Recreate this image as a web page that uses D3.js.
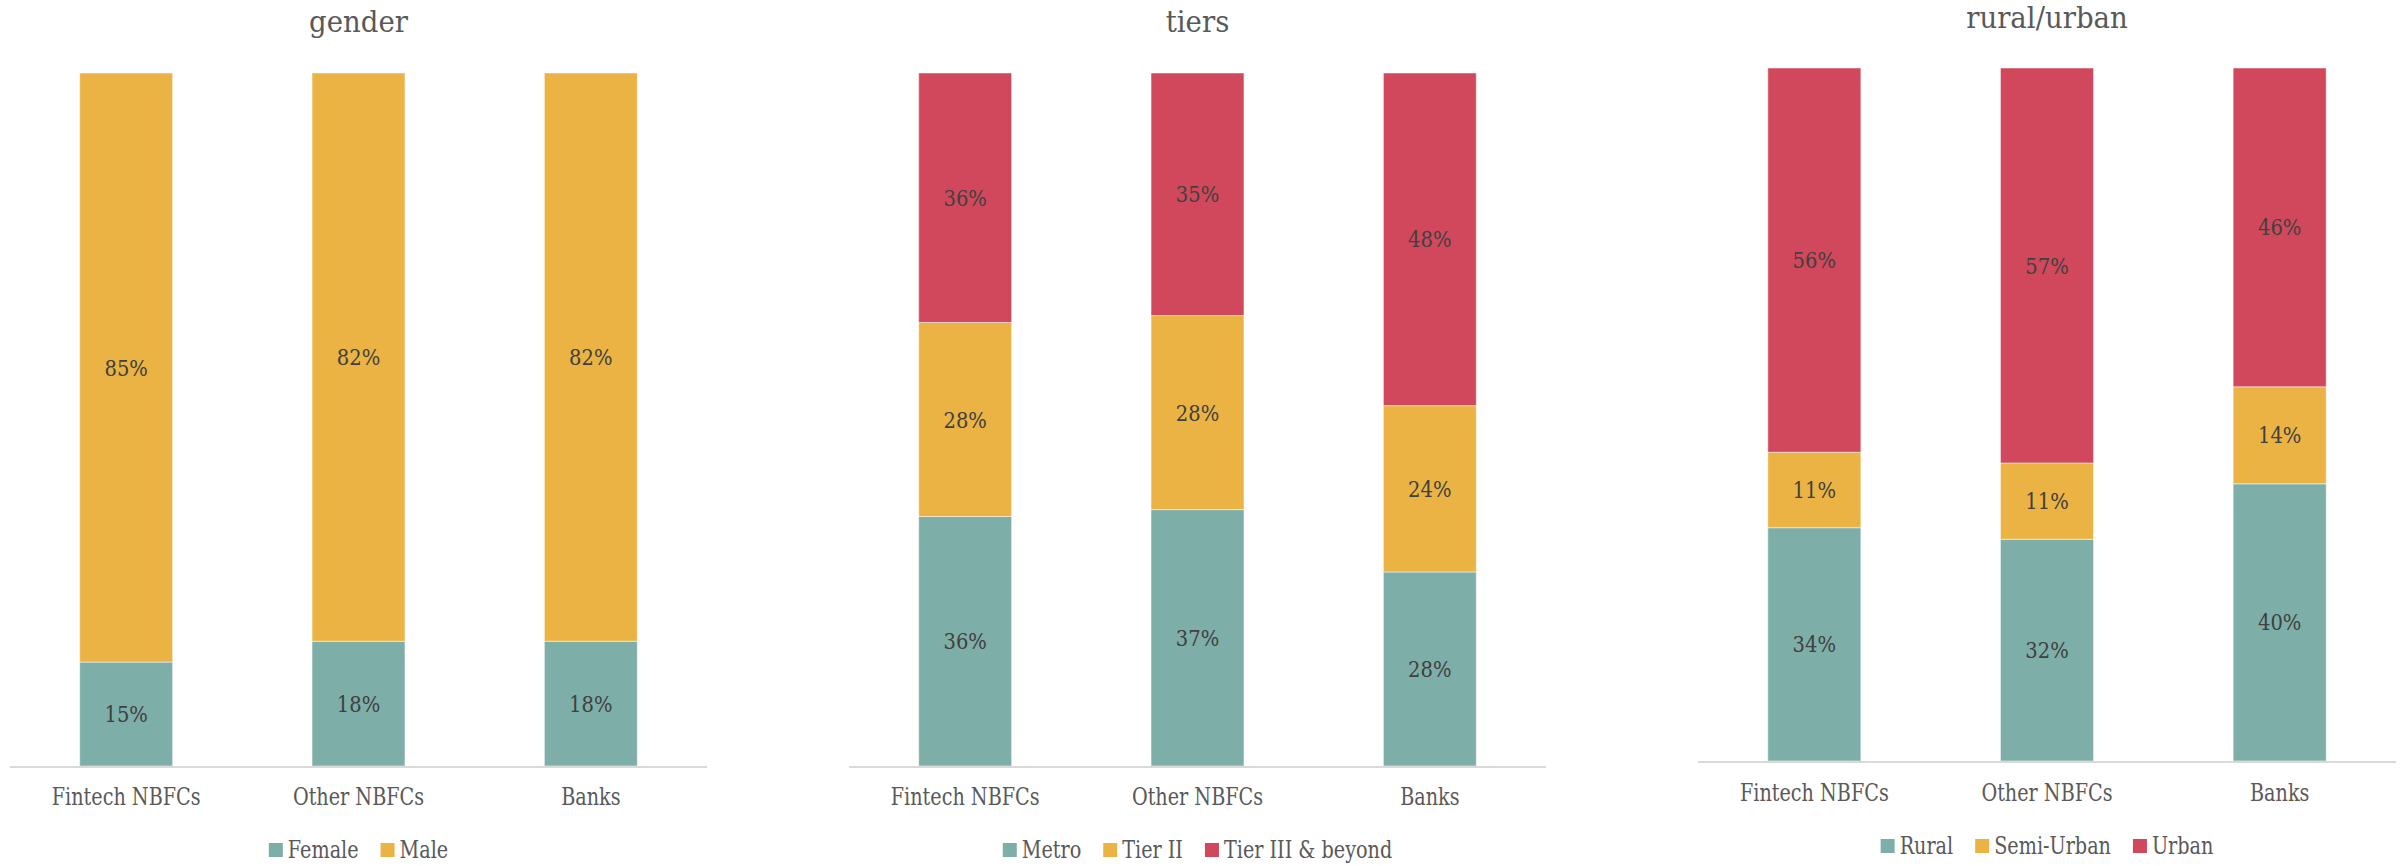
<html>
<head>
<script src="https://d3js.org/d3.v7.min.js"></script>
<style>
body { margin: 0; background: #fff; }
svg text { font-family: "DejaVu Serif", serif; }
</style>
</head>
<body>
<svg width="2407" height="866"></svg>
<script>

// categories shared by all three panels
var categories = ["Fintech NBFCs", "Other NBFCs", "Banks"];

// gender
var genderKeys = ["Female", "Male"];
var genderFemale = [15, 18, 18];
var genderMale = [85, 82, 82];

// tiers
var tierKeys = ["Metro", "Tier II", "Tier III & beyond"];
var tierMetro = [36, 37, 28];
var tierTwo = [28, 28, 24];
var tierThree = [36, 35, 48];

// rural/urban
var areaKeys = ["Rural", "Semi-Urban", "Urban"];
var areaRural = [34, 32, 40];
var areaSemi = [11, 11, 14];
var areaUrban = [56, 57, 46];

var teal = "#7eaea8", gold = "#eab343", red = "#d1485c";

// the original face is a narrow slab serif, squeeze DejaVu a bit to match widths
var squeeze = 0.8;

var svg = d3.select("svg");

// turn a list of series into rows d3.stack can use
function rows(keys, series) {
	return categories.map(function (c, i) {
		var r = { cat: c };
		keys.forEach(function (k, j) { r[k] = series[j][i]; });
		return r;
	});
}

function drawPanel(p) {
	var g = svg.append("g");

	var x = d3.scaleBand().domain(categories).range([p.x0, p.x1])
		.paddingInner(0.6).paddingOuter(0.3);
	var y = d3.scaleLinear().domain([0, 1]).range([p.base, p.top]);
	var color = d3.scaleOrdinal().domain(p.keys).range(p.colors);

	var data = rows(p.keys, p.series);
	var stacked = d3.stack().keys(p.keys).offset(d3.stackOffsetExpand)(data);

	// title
	g.append("text")
		.attr("transform", "translate(" + (p.x0 + p.x1) / 2 + "," + p.titleY + ") scale(0.92,1)")
		.attr("text-anchor", "middle")
		.style("font-size", "30px").style("fill", "#595959")
		.text(p.title);

	var layers = g.selectAll("g.layer").data(stacked).enter()
		.append("g").attr("class", "layer")
		.style("fill", function (d) { return color(d.key); });

	layers.selectAll("rect").data(function (d) { return d; }).enter()
		.append("rect")
		.attr("x", function (d) { return x(d.data.cat); })
		.attr("width", x.bandwidth())
		.attr("y", function (d) { return y(d[1]); })
		.attr("height", function (d) { return y(d[0]) - y(d[1]); })
		.style("stroke", "#fff").style("stroke-width", 1).style("stroke-opacity", 0.5);

	// data labels, the value as read (not normalised)
	layers.each(function (layer) {
		d3.select(this).selectAll("text").data(layer).enter()
			.append("text")
			.attr("transform", function (d) {
				var cx = x(d.data.cat) + x.bandwidth() / 2;
				var cy = (y(d[0]) + y(d[1])) / 2;
				return "translate(" + cx + "," + cy + ") scale(0.85,1)";
			})
			.attr("dy", "0.35em")
			.attr("text-anchor", "middle")
			.style("font-size", "23px").style("fill", "#404040")
			.text(function (d) { return d.data[layer.key] + "%"; });
	});

	// baseline
	g.append("line")
		.attr("x1", p.x0).attr("x2", p.x1)
		.attr("y1", p.base + 1).attr("y2", p.base + 1)
		.style("stroke", "#d9d9d9").style("stroke-width", 2);

	// category labels
	var axis = d3.axisBottom(x).tickSize(0).tickPadding(0);
	var ax = g.append("g").attr("transform", "translate(0," + p.labelY + ")").call(axis);
	ax.attr("font-family", null).attr("font-size", null);
	ax.select(".domain").remove();
	ax.selectAll("text")
		.attr("dy", 0)
		.attr("transform", "scale(" + squeeze + ",1)")
		.style("font-size", "24px").style("fill", "#595959");

	// legend, centred under the panel
	var leg = g.append("g");
	var items = leg.selectAll("g").data(p.keys).enter().append("g");
	items.append("rect")
		.attr("width", 14).attr("height", 14)
		.attr("y", -7)
		.style("fill", function (k) { return color(k); });
	items.append("text")
		.attr("transform", "translate(19,0) scale(" + squeeze + ",1)")
		.attr("dy", "0.35em")
		.style("font-size", "24px").style("fill", "#595959")
		.text(function (k) { return k; });

	var pos = 0;
	items.each(function () {
		var w = this.querySelector("text").getComputedTextLength() * squeeze;
		d3.select(this).attr("transform", "translate(" + pos + ",0)");
		pos += 19 + w + 22;
	});
	var total = pos - 22;
	leg.attr("transform", "translate(" + ((p.x0 + p.x1) / 2 - total / 2) + "," + p.legendY + ")");
}

drawPanel({
	title: "gender", keys: genderKeys, series: [genderFemale, genderMale], colors: [teal, gold],
	x0: 10, x1: 707, top: 73, base: 766, titleY: 32, labelY: 805, legendY: 850
});
drawPanel({
	title: "tiers", keys: tierKeys, series: [tierMetro, tierTwo, tierThree], colors: [teal, gold, red],
	x0: 849, x1: 1546, top: 73, base: 766, titleY: 32, labelY: 805, legendY: 850
});
drawPanel({
	title: "rural/urban", keys: areaKeys, series: [areaRural, areaSemi, areaUrban], colors: [teal, gold, red],
	x0: 1698, x1: 2396, top: 68, base: 761, titleY: 28, labelY: 801, legendY: 846
});

</script>
</body>
</html>
